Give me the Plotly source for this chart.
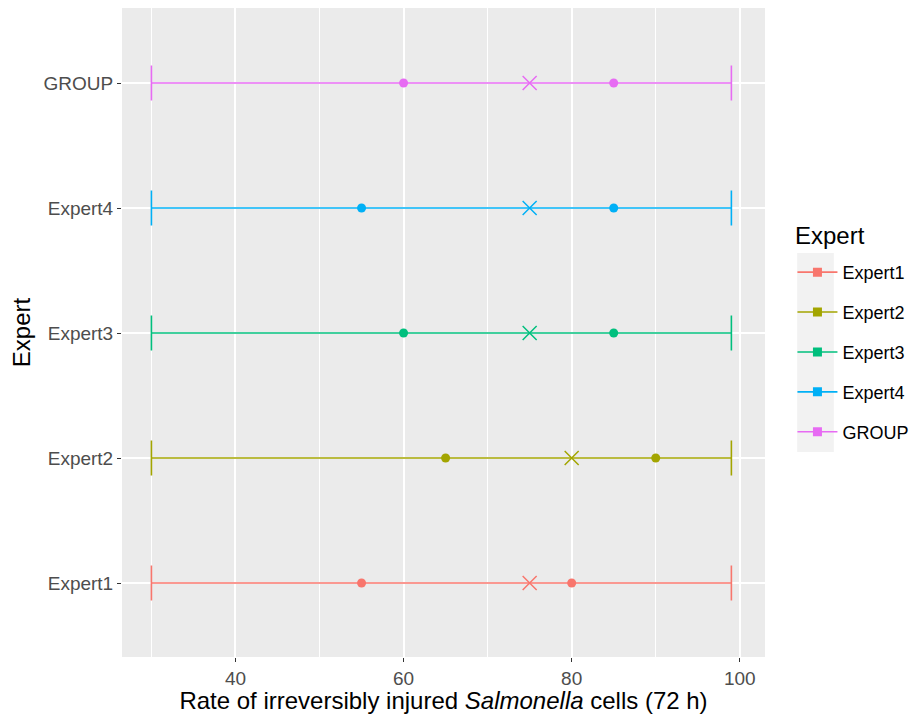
import plotly.graph_objects as go

experts = ["Expert1", "Expert2", "Expert3", "Expert4", "GROUP"]
colors = ["#F8766D", "#A3A500", "#00BF7D", "#00B0F6", "#E76BF3"]
min_vals = [30, 30, 30, 30, 30]
max_vals = [99, 99, 99, 99, 99]
low_q = [55, 65, 60, 55, 60]
high_q = [80, 90, 85, 85, 85]
mode_vals = [75, 80, 75, 75, 75]

fig = go.Figure()
for i, e in enumerate(experts):
    c = colors[i]
    fig.add_trace(go.Scatter(x=[min_vals[i], max_vals[i]], y=[e, e], mode="lines+markers",
                             line=dict(color=c, width=1.6),
                             marker=dict(symbol="line-ns-open", size=25, color=c, line=dict(color=c, width=1.6)),
                             showlegend=False, hoverinfo="skip"))
    fig.add_trace(go.Scatter(x=[low_q[i], high_q[i]], y=[e, e], mode="markers",
                             marker=dict(symbol="circle", size=9, color=c),
                             showlegend=False))
    fig.add_trace(go.Scatter(x=[mode_vals[i]], y=[e], mode="markers",
                             marker=dict(symbol="x-thin-open", size=14, color=c, line=dict(color=c, width=1.5)),
                             showlegend=False))
    fig.add_trace(go.Scatter(x=[None], y=[None], mode="lines+markers", name=e,
                             line=dict(color=c, width=1.6),
                             marker=dict(symbol="square", size=9, color=c),
                             legendgroup=e, showlegend=True))

fig.add_shape(type="rect", xref="paper", yref="paper", x0=1.05, x1=1.107, y0=0.316, y1=0.6225,
              fillcolor="#F2F2F2", line=dict(width=0), layer="below")
fig.add_annotation(text="Expert", xref="paper", yref="paper", x=1.0436, y=0.650,
                   xanchor="left", yanchor="middle", showarrow=False,
                   font=dict(size=24, color="black"))

fig.update_layout(
    width=902, height=706,
    margin=dict(l=114, r=145, t=0, b=57, autoexpand=False),
    plot_bgcolor="#EBEBEB", paper_bgcolor="white",
    font=dict(family="Liberation Sans, Arial, sans-serif", color="#4D4D4D", size=19),
    xaxis=dict(range=[26.5, 103], tickvals=[40, 60, 80, 100], showgrid=True, gridcolor="white", gridwidth=1.6,
               minor=dict(tickvals=[30, 50, 70, 90], showgrid=True, gridcolor="white", gridwidth=0.8),
               ticks="outside", ticklen=4, tickcolor="#333333", tickwidth=1.2, zeroline=False,
               automargin=False,
               title=dict(text="Rate of irreversibly injured <i>Salmonella</i> cells (72 h)",
                          font=dict(size=24, color="black"), standoff=4),
               tickfont=dict(size=19, color="#4D4D4D")),
    yaxis=dict(type="category", categoryorder="array", categoryarray=experts, range=[-0.592, 4.6],
               showgrid=True, gridcolor="white", gridwidth=1.6, zeroline=False, automargin=False,
               ticks="outside", ticklen=4, tickcolor="#333333", tickwidth=1.2,
               title=dict(text="Expert", font=dict(size=24, color="black"), standoff=6),
               tickfont=dict(size=19, color="#4D4D4D")),
    legend=dict(x=1.0427, y=0.621, xanchor="left", yanchor="top", tracegroupgap=13.5,
                font=dict(size=18, color="black"), bgcolor="rgba(0,0,0,0)", itemwidth=40),
)

fig.write_html("out.html")
